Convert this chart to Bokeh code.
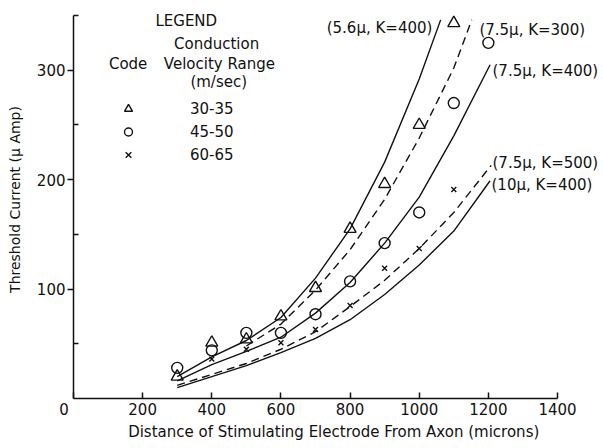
from bokeh.plotting import figure
from bokeh.models import Range1d, FixedTicker, Label, Legend, LegendItem
from bokeh.embed import file_html
from bokeh.resources import INLINE

# ---------------- data ----------------
# measured thresholds (Threshold current, micro-Amp) vs electrode distance (microns)
tri_x = [300, 400, 500, 600, 700, 800, 900, 1000, 1100]
tri_y = [20, 51, 54, 75, 101, 155, 196, 250, 343]

circ_x = [300, 400, 500, 600, 700, 800, 900, 1000, 1100, 1200]
circ_y = [28, 44, 60, 60, 77, 107, 142, 170, 270, 325]

cross_x = [400, 500, 600, 700, 800, 900, 1000, 1100]
cross_y = [36, 45, 51, 63, 85, 119, 137, 191]

# theoretical curves
c1_x = [300, 400, 500, 600, 700, 800, 900, 1000, 1062]
c1_y = [20, 38, 53, 74, 110, 155, 216, 292, 346]        # (5.6u, K=400) solid

c2_x = [500, 600, 700, 800, 900, 1000, 1100, 1152]
c2_y = [48, 68, 99, 136, 182, 238, 302, 346]            # (7.5u, K=300) dashed

c3_x = [300, 400, 500, 600, 700, 800, 900, 1000, 1100, 1205]
c3_y = [16, 31, 43, 56, 78, 106, 142, 184, 240, 305]    # (7.5u, K=400) solid

c4_x = [300, 400, 500, 600, 700, 800, 900, 1000, 1100, 1208]
c4_y = [12, 22, 32, 45, 61, 84, 108, 137, 170, 213]     # (7.5u, K=500) dashed

c5_x = [300, 400, 500, 600, 700, 800, 900, 1000, 1100, 1205]
c5_y = [10, 20, 30, 42, 55, 72, 95, 122, 153, 199]      # (10u, K=400) solid

x_ticks = [0, 200, 400, 600, 800, 1000, 1200, 1400]
y_ticks = [100, 200, 300]
y_minor = [50, 150, 250, 350]

legend_labels = ["30-35", "45-50", "60-65"]
curve_labels = ["(5.6\u03bc, K=400)", "(7.5\u03bc, K=300)", "(7.5\u03bc, K=400)",
                "(7.5\u03bc, K=500)", "(10\u03bc, K=400)"]

FONT = "DejaVu Sans"
BLACK = "#111111"

p = figure(width=603, height=448, output_backend="svg", toolbar_location=None,
           x_range=Range1d(0, 1533), y_range=Range1d(0, 363.7),
           min_border_left=73, min_border_right=0, min_border_top=0,
           min_border_bottom=50)
p.outline_line_color = None
p.xgrid.visible = False
p.ygrid.visible = False
p.background_fill_color = "white"
p.border_fill_color = "white"

# axes
p.xaxis.ticker = FixedTicker(ticks=x_ticks)
p.yaxis.ticker = FixedTicker(ticks=y_ticks, minor_ticks=y_minor)
p.xaxis.bounds = (0, 1400)
p.yaxis.bounds = (0, 350)
for ax in (p.xaxis[0], p.yaxis[0]):
    ax.axis_line_color = BLACK
    ax.axis_line_width = 1.5
    ax.major_tick_line_color = BLACK
    ax.major_tick_line_width = 1.5
    ax.minor_tick_line_color = BLACK
    ax.minor_tick_line_width = 1.5
    ax.major_label_text_font = FONT
    ax.major_label_text_font_size = "15px"
    ax.major_label_text_color = BLACK
    ax.axis_label_text_font = FONT
    ax.axis_label_text_font_style = "normal"
    ax.axis_label_text_color = BLACK

p.xaxis.major_tick_in = 6
p.xaxis.major_tick_out = 0
p.xaxis.minor_tick_in = 0
p.xaxis.minor_tick_out = 0
p.xaxis.major_label_standoff = 2
p.xaxis.major_label_overrides = {0: "0\u00a0\u00a0\u00a0\u00a0"}
p.xaxis.axis_label = "Distance  of Stimulating Electrode From Axon  (microns)"
p.xaxis.axis_label_text_font_size = "15px"
p.xaxis.axis_label_standoff = 1

p.yaxis.major_tick_in = 0
p.yaxis.major_tick_out = 6
p.yaxis.minor_tick_in = 5
p.yaxis.minor_tick_out = 0
p.yaxis.major_label_standoff = 2
p.yaxis.axis_label = "Threshold Current (\u03bc Amp)"
p.yaxis.axis_label_text_font_size = "14px"
p.yaxis.axis_label_standoff = 11

# curves
lw = 1.4
p.line(c1_x, c1_y, line_color=BLACK, line_width=lw)
p.line(c2_x, c2_y, line_color=BLACK, line_width=lw, line_dash="8 5")
p.line(c3_x, c3_y, line_color=BLACK, line_width=lw)
p.line(c4_x, c4_y, line_color=BLACK, line_width=lw, line_dash="8 5")
p.line(c5_x, c5_y, line_color=BLACK, line_width=lw)

# points
r_tri = p.scatter(tri_x, tri_y, marker="triangle", size=12, fill_color=None,
                  line_color=BLACK, line_width=1.4)
r_circ = p.scatter(circ_x, circ_y, marker="circle", size=11, fill_color=None,
                   line_color=BLACK, line_width=1.4)
r_x = p.scatter(cross_x, cross_y, marker="x", size=7, line_color=BLACK, line_width=1.4)

legend = Legend(items=[LegendItem(label=legend_labels[0], renderers=[r_tri]),
                       LegendItem(label=legend_labels[1], renderers=[r_circ]),
                       LegendItem(label=legend_labels[2], renderers=[r_x])],
                location=(45, 232), orientation="vertical",
                glyph_width=20, glyph_height=23, label_height=23,
                label_standoff=52, spacing=0, padding=0, margin=0,
                border_line_color=None, background_fill_alpha=0,
                label_text_font=FONT, label_text_font_size="15px",
                label_text_color=BLACK)
p.add_layout(legend, "center")


def lab(text, x, y, align="left", size="15px"):
    p.add_layout(Label(x=x, y=y, text=text, text_align=align, text_baseline="middle",
                       text_font=FONT, text_font_size=size, text_color=BLACK))


# legend header
lab("LEGEND", 237, 345)
lab("Conduction", 414, 324, "center")
lab("Code", 158, 306, "center")
lab("Velocity Range", 422, 306, "center")
lab("(m/sec)", 420, 289, "center")

# curve labels
lab(curve_labels[0], 1038, 339, "right")
lab(curve_labels[1], 1174, 337, "left")
lab(curve_labels[2], 1212, 299, "left")
lab(curve_labels[3], 1212, 215, "left")
lab(curve_labels[4], 1209, 195, "left")

open("out.html", "w").write(file_html(p, INLINE))
